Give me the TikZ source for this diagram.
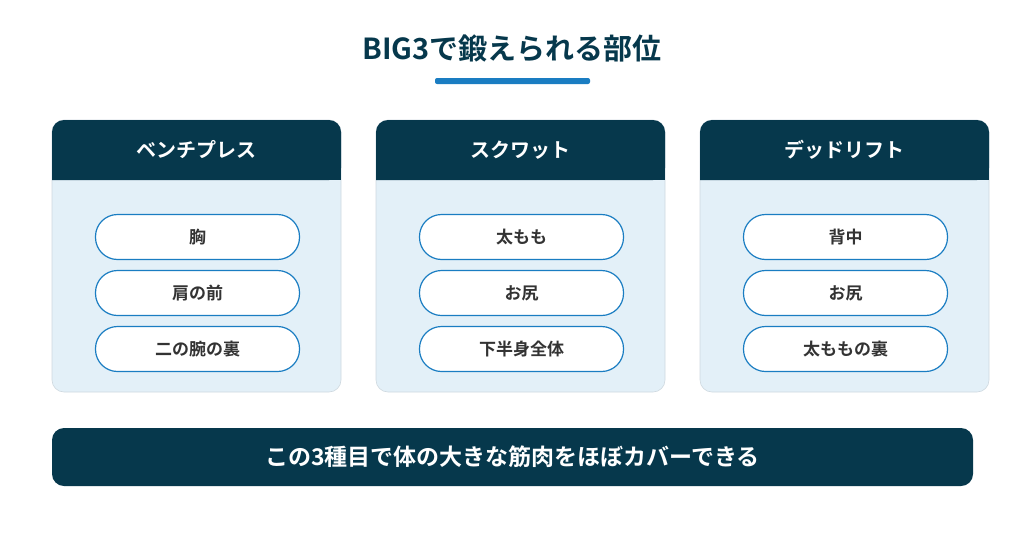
\documentclass[tikz,border=0pt]{standalone}
\usepackage{fontspec}
\newfontfamily\jp{Noto Sans CJK JP}[BoldFont={Noto Sans CJK JP Bold}]
\definecolor{dark}{HTML}{06384C}
\definecolor{cardbg}{HTML}{E3F0F8}
\definecolor{blue}{HTML}{1A7DC2}
\definecolor{txt}{HTML}{333333}
\begin{document}
\begin{tikzpicture}[x=1pt,y=-1pt,
 card/.style={fill=cardbg,draw=cardbg!80!gray,line width=0.6pt,rounded corners=12pt},
 head/.style={text=white,font=\jp\bfseries\fontsize{20}{24}\selectfont},
 pill/.style={draw=blue,fill=white,line width=1.2pt,rounded corners=22pt,minimum width=204pt,minimum height=45pt,text=txt,font=\jp\bfseries\fontsize{17}{20}\selectfont}]
\useasboundingbox (0,0) rectangle (1024,538);
\fill[white] (0,0) rectangle (1024,538);
\node[text=dark,font=\jp\bfseries\fontsize{29}{34}\selectfont] (title) at (512,48) {BIG3で鍛えられる部位};
\fill[blue,rounded corners=2pt] (435,78) rectangle (590,84);
\foreach \i/\h/\a/\b/\c in {0/ベンチプレス/胸/肩の前/二の腕の裏,1/スクワット/太もも/お尻/下半身全体,2/デッドリフト/背中/お尻/太ももの裏}{
 \pgfmathsetmacro\xl{52+324*\i}
 \pgfmathsetmacro\xm{\xl+144.5}
 \draw[card] (\xl,120) rectangle (\xl+289,392);
 \fill[dark,rounded corners=12pt] (\xl,180) -- (\xl,120) -- (\xl+289,120) -- (\xl+289,180) [sharp corners] -- cycle;
 \fill[dark] (\xl,168) rectangle (\xl+289,180);
 \node[head] (h\i) at (\xm,150) {\h};
 \node[pill] (p\i a) at (\xm+1,237) {\a};
 \node[pill] (p\i b) at (\xm+1,293) {\b};
 \node[pill] (p\i c) at (\xm+1,349) {\c};
}
\fill[dark,rounded corners=12pt] (52,428) rectangle (973,486);
\node[text=white,font=\jp\bfseries\fontsize{23}{28}\selectfont] (foot) at (512.5,457) {この3種目で体の大きな筋肉をほぼカバーできる};
\end{tikzpicture}
\end{document}
